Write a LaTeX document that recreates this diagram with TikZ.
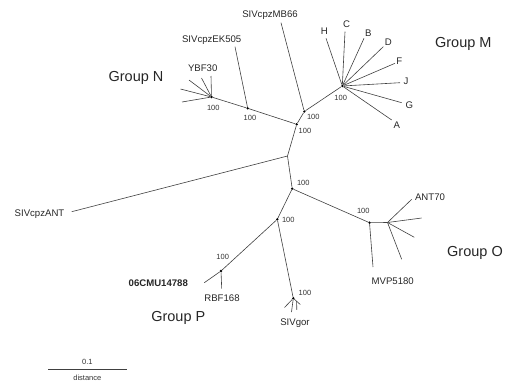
\documentclass[tikz,border=0pt]{standalone}
\usepackage{fontspec}
\setmainfont{Liberation Sans}
\usepackage{tikz}
\usetikzlibrary{arrows.meta}

\begin{document}
\begin{tikzpicture}[x=1pt,y=-1pt]
\tikzset{branch/.style={draw=black!75,line width=0.6pt}}
\tikzstyle{vertex} =[circle, fill = black,inner sep=0pt,minimum size=2.6pt]
\tikzstyle{boot} =[font=\fontsize{7.5}{8}\selectfont,text=black!80,inner sep=0pt]
\tikzstyle{taxon} =[font=\fontsize{9.6}{11}\selectfont,text=black!85,inner sep=0pt]
\tikzstyle{group} =[font=\fontsize{14.5}{16}\selectfont,text=black!85,inner sep=0pt]

\useasboundingbox (0,0) rectangle (506,383);

% inner nodes
\coordinate (k) at (287.5,156);
\node[vertex](vL) at (296.7,124.3){};
\node[vertex](vMB) at (304.3,111.5){};
\node[vertex](vM) at (342.3,86){};
\node[vertex](vEK) at (247.7,108.3){};
\node[vertex](vN) at (211.5,97){};
\node[vertex](vOP) at (292.2,188.7){};
\node[vertex](vO) at (369.5,222.7){};
\coordinate (o2) at (387.5,222.5);
\node[vertex](vP) at (277.3,219.3){};
\node[vertex](vRBF) at (221,271){};
\node[vertex](vgor) at (293.3,298.3){};
\coordinate (g2) at (296.6,301.2);

% tips
\coordinate (tANT) at (71.7,211.7);
\coordinate (tMB) at (281,22.7);
\coordinate (tEK) at (235,46.7);
\coordinate (tYBF) at (211,76);
\coordinate (tN1) at (201.5,78);
\coordinate (tN2) at (189,80);
\coordinate (tN3) at (180.5,89);
\coordinate (tN4) at (182,102);
\coordinate (tH) at (326,38.3);
\coordinate (tC) at (345,31.7);
\coordinate (tB) at (364,38.3);
\coordinate (tD) at (383.3,46.7);
\coordinate (tF) at (395,63.3);
\coordinate (tJ) at (400,82.7);
\coordinate (tG) at (401.7,102.7);
\coordinate (tA) at (391.7,120);
\coordinate (tANT70) at (411.7,199.3);
\coordinate (tO1) at (421.7,218);
\coordinate (tO2) at (414.3,237.3);
\coordinate (tO3) at (401.7,259.3);
\coordinate (tMVP) at (373,267);
\coordinate (tCMU) at (204.3,282.7);
\coordinate (tRBF) at (221.7,288.5);
\coordinate (tg1) at (284.5,307.5);
\coordinate (tg2) at (291.5,312);
\coordinate (tg3) at (300.3,304.5);
\coordinate (tg4) at (296.8,309.8);

% branches
\draw[branch] (k) -- (tANT);
\draw[branch] (k) -- (vL);
\draw[branch] (vL) -- (vMB);
\draw[branch] (vMB) -- (tMB);
\draw[branch] (vMB) -- (vM);
\draw[branch] (vL) -- (vEK);
\draw[branch] (vEK) -- (tEK);
\draw[branch] (vEK) -- (vN);
\foreach \t in {tYBF,tN1,tN2,tN3,tN4} \draw[branch] (vN) -- (\t);
\foreach \t in {tH,tC,tB,tD,tF,tJ,tG,tA} \draw[branch] (vM) -- (\t);
\draw[branch] (k) -- (vOP);
\draw[branch] (vOP) -- (vO);
\draw[branch] (vO) -- (o2);
\draw[branch] (vO) -- (tMVP);
\foreach \t in {tANT70,tO1,tO2,tO3} \draw[branch] (o2) -- (\t);
\draw[branch] (vOP) -- (vP);
\draw[branch] (vP) -- (vRBF);
\draw[branch] (vRBF) -- (tCMU);
\draw[branch] (vRBF) -- (tRBF);
\draw[branch] (vP) -- (vgor);
\draw[branch] (vgor) -- (tg1);
\draw[branch] (vgor) -- (tg2);
\draw[branch] (vgor) -- (tg3);
\draw[branch] (g2) -- (tg4);

% bootstrap values
\node[boot](bN) at (213.3,107.7){100};
\node[boot](bEK) at (250,118.3){100};
\node[boot](bMB) at (313.3,116.7){100};
\node[boot](bL) at (305,131){100};
\node[boot](bM) at (340.7,98.3){100};
\node[boot](bOP) at (303.3,183.3){100};
\node[boot](bP) at (288.3,220){100};
\node[boot](bO) at (363.3,211){100};
\node[boot](bRBF) at (222.7,256.7){100};
\node[boot](bgor) at (305,292.7){100};

% taxa
\node[taxon](lANT) at (39.5,214){SIVcpzANT};
\node[taxon](lMB) at (270,15){SIVcpzMB66};
\node[taxon](lEK) at (211.7,40){SIVcpzEK505};
\node[taxon](lYBF) at (202.7,68.3){YBF30};
\node[taxon](lH) at (324.3,30.7){H};
\node[taxon](lC) at (346.7,24.3){C};
\node[taxon](lB) at (368.3,32.7){B};
\node[taxon](lD) at (388.3,42.3){D};
\node[taxon](lF) at (399.3,61){F};
\node[taxon](lJ) at (406,81.7){J};
\node[taxon](lG) at (409.3,105){G};
\node[taxon](lA) at (396.7,125){A};
\node[taxon](lANT70) at (430,196.7){ANT70};
\node[taxon](lMVP) at (392.7,280.7){MVP5180};
\node[taxon,font=\fontsize{9.6}{11}\selectfont\bfseries](lCMU) at (158.3,283.3){06CMU14788};
\node[taxon](lRBF) at (222,298){RBF168};
\node[taxon](lgor) at (295,323.3){SIVgor};

% groups
\node[group](gN) at (136,78.3){Group N};
\node[group](gM) at (463.3,44.3){Group M};
\node[group](gO) at (475,253.3){Group O};
\node[group](gP) at (178.3,318.3){Group P};

% scale
\coordinate (s1) at (48.3,369.3);
\coordinate (s2) at (127.3,369.3);
\draw[branch] (s1) -- (s2);
\node[boot](sv) at (87.3,361.7){0.1};
\node[boot](sd) at (87.3,378.3){distance};
\end{tikzpicture}
\end{document}
